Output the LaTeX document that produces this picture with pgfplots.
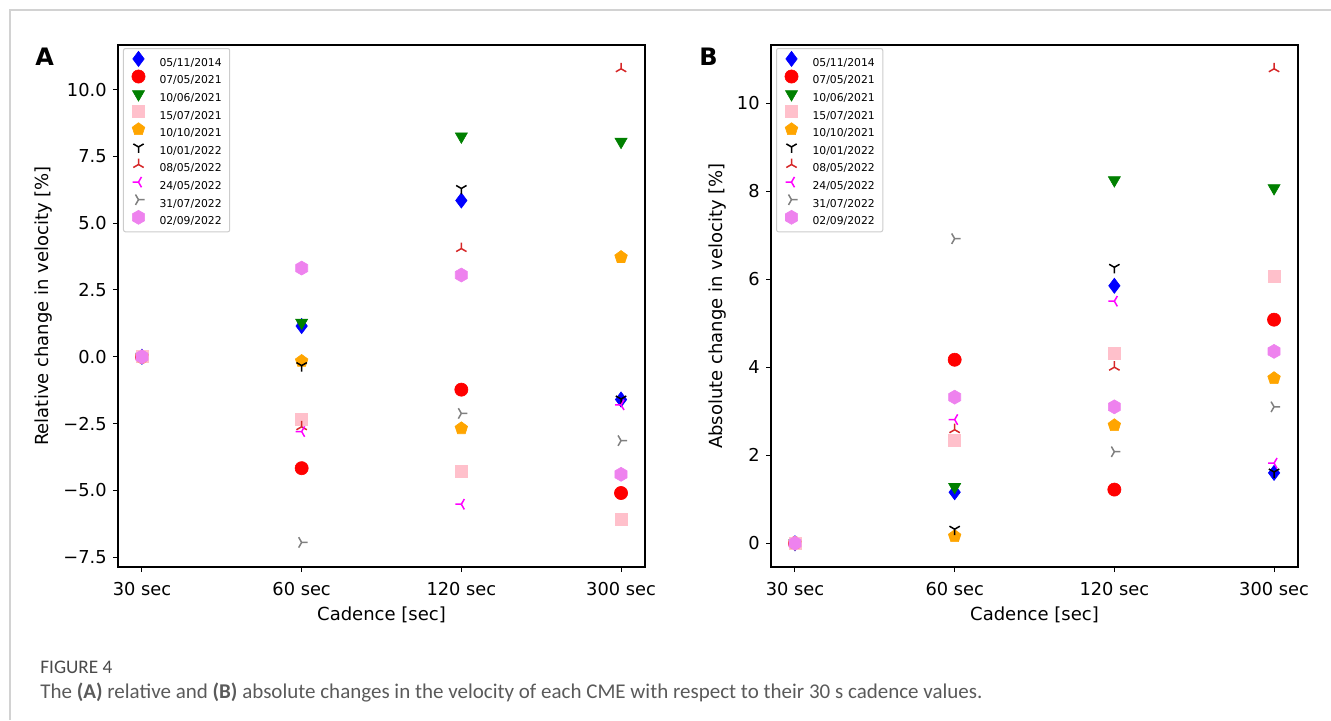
\documentclass[border=0pt]{standalone}
\usepackage{fontspec}
\setmainfont{DejaVu Sans}
\newfontfamily\capfont{Carlito}
\usepackage{pgfplots}
\pgfplotsset{compat=1.18}
\usetikzlibrary{plotmarks}

\definecolor{mblue}{HTML}{0000FF}
\definecolor{mred}{HTML}{FF0000}
\definecolor{mgreen}{HTML}{008000}
\definecolor{mpink}{HTML}{FFC0CB}
\definecolor{morange}{HTML}{FFA500}
\definecolor{mtred}{HTML}{D62728}
\definecolor{mmagenta}{HTML}{FF00FF}
\definecolor{mgray}{HTML}{808080}
\definecolor{mviolet}{HTML}{EE82EE}
\definecolor{framegray}{HTML}{D2D2D2}
\definecolor{capgray}{HTML}{5A5A5A}
\definecolor{capdark}{HTML}{4A4A4A}
\definecolor{leggray}{HTML}{CCCCCC}

\pgfdeclareplotmark{hexagon*}{%
  \pgfpathmoveto{\pgfqpointpolar{90}{\pgfplotmarksize}}%
  \pgfpathlineto{\pgfqpointpolar{150}{\pgfplotmarksize}}%
  \pgfpathlineto{\pgfqpointpolar{210}{\pgfplotmarksize}}%
  \pgfpathlineto{\pgfqpointpolar{270}{\pgfplotmarksize}}%
  \pgfpathlineto{\pgfqpointpolar{330}{\pgfplotmarksize}}%
  \pgfpathlineto{\pgfqpointpolar{30}{\pgfplotmarksize}}%
  \pgfpathclose
  \pgfusepathqfillstroke
}

\pgfplotsset{
  mk/.style={only marks, legend image code/.code={%
      \pgfpathrectangle{\pgfpoint{-3.5pt}{-1pt}}{\pgfpoint{7pt}{5.5pt}}\pgfusepath{use as bounding box}%
      \draw[##1] plot coordinates {(0pt,1.9pt)};}},
  s1/.style={mk, color=mblue, mark=diamond*, mark size=3.8pt, mark options={solid, line width=0.3pt}},
  s2/.style={mk, color=mred, mark=*, mark size=3.3pt, mark options={solid, line width=0.3pt}},
  s3/.style={mk, color=mgreen, mark=triangle*, mark size=3.5pt, mark options={solid, rotate=180, line width=0.3pt}},
  s4/.style={mk, color=mpink, mark=square*, mark size=3.0pt, mark options={solid, line width=0.3pt}},
  s5/.style={mk, color=morange, mark=pentagon*, mark size=3.3pt, mark options={solid, line width=0.3pt}},
  s6/.style={mk, color=black, mark=Mercedes star flipped, mark size=3.0pt, mark options={solid, line width=0.75pt}},
  s7/.style={mk, color=mtred, mark=Mercedes star, mark size=3.0pt, mark options={solid, line width=0.75pt}},
  s8/.style={mk, color=mmagenta, mark=Mercedes star, mark size=3.0pt, mark options={solid, rotate=90, line width=0.75pt}},
  s9/.style={mk, color=mgray, mark=Mercedes star, mark size=3.0pt, mark options={solid, rotate=-90, line width=0.75pt}},
  s10/.style={mk, color=mviolet, mark=hexagon*, mark size=3.5pt, mark options={solid, line width=0.3pt}},
  cstyle/.style={
    scale only axis, width=263.5pt, height=261pt,
    xmin=-0.15, xmax=3.15, xtick={0,1,2,3},
    xticklabels={30 sec,60 sec,120 sec,300 sec},
    tick align=outside, tick pos=left, major tick length=2.5pt,
    every tick/.style={black, line width=0.5pt},
    axis line style={line width=0.6pt},
    ticklabel style={font=\fontsize{8.9}{10}\selectfont},
    xticklabel style={anchor=north, inner sep=0pt, yshift=-5pt},
    yticklabel style={anchor=east, inner sep=0pt, xshift=-3pt},
    label style={font=\fontsize{9}{10}\selectfont},
    xlabel={Cadence [sec]},
    xlabel style={at={(axis description cs:0.5,-0.1025)}, anchor=base, inner sep=0pt},
    legend cell align=left,
    legend style={at={(axis description cs:0,1)}, anchor=north west, xshift=2.5pt, yshift=-1.5pt,
      font=\fontsize{5.4}{6}\selectfont, draw=leggray, line width=0.5pt, rounded corners=1pt,
      fill=white, inner xsep=4pt, inner ysep=2.6pt, row sep=1.55pt, column sep=7pt,
      nodes={inner sep=0pt, text height=4.5pt, text depth=1pt}},
  }
}

\begin{document}
\begin{tikzpicture}[x=1pt,y=1pt]
\useasboundingbox (0,0) rectangle (665.5,-360);
\draw[framegray, line width=0.75pt] (5,-360) -- (5,-5) -- (665.5,-5);

\node[anchor=base west, inner sep=0pt, font=\bfseries\fontsize{12}{14}\selectfont] at (17.5,-32.5) {A};
\node[anchor=base west, inner sep=0pt, font=\bfseries\fontsize{12}{14}\selectfont] at (349.5,-32.5) {B};

\begin{axis}[cstyle, at={(59pt,-22.5pt)}, anchor=north west,
  ymin=-7.87, ymax=11.67,
  ytick={-7.5,-5,-2.5,0,2.5,5,7.5,10},
  yticklabels={−7.5,−5.0,−2.5,0.0,2.5,5.0,7.5,10.0},
  ylabel={Relative change in velocity [\%]},
  ylabel style={at={(axis description cs:-0.1328,0.5)}, anchor=base, inner sep=0pt}]
\addplot[s1] coordinates {(0,0) (1,1.15) (2,5.85) (3,-1.60)}; \addlegendentry{05/11/2014}
\addplot[s2] coordinates {(0,0) (1,-4.17) (2,-1.23) (3,-5.10)}; \addlegendentry{07/05/2021}
\addplot[s3] coordinates {(0,0) (1,1.28) (2,8.25) (3,8.05)}; \addlegendentry{10/06/2021}
\addplot[s4] coordinates {(0,0) (1,-2.34) (2,-4.30) (3,-6.08)}; \addlegendentry{15/07/2021}
\addplot[s5] coordinates {(0,0) (1,-0.16) (2,-2.68) (3,3.73)}; \addlegendentry{10/10/2021}
\addplot[s6] coordinates {(0,0) (1,-0.33) (2,6.30) (3,-1.58)}; \addlegendentry{10/01/2022}
\addplot[s7] coordinates {(0,0) (1,-2.62) (2,4.05) (3,10.78)}; \addlegendentry{08/05/2022}
\addplot[s8] coordinates {(0,0) (1,-2.80) (2,-5.52) (3,-1.80)}; \addlegendentry{24/05/2022}
\addplot[s9] coordinates {(0,0) (1,-6.95) (2,-2.12) (3,-3.14)}; \addlegendentry{31/07/2022}
\addplot[s10] coordinates {(0,0) (1,3.32) (2,3.06) (3,-4.40)}; \addlegendentry{02/09/2022}
\end{axis}

\begin{axis}[cstyle, at={(385.5pt,-22.5pt)}, anchor=north west,
  ymin=-0.539, ymax=11.32,
  ytick={0,2,4,6,8,10},
  yticklabels={0,2,4,6,8,10},
  ylabel={Absolute change in velocity [\%]},
  ylabel style={at={(axis description cs:-0.093,0.5)}, anchor=base, inner sep=0pt}]
\addplot[s1] coordinates {(0,0) (1,1.16) (2,5.85) (3,1.60)}; \addlegendentry{05/11/2014}
\addplot[s2] coordinates {(0,0) (1,4.17) (2,1.22) (3,5.08)}; \addlegendentry{07/05/2021}
\addplot[s3] coordinates {(0,0) (1,1.28) (2,8.25) (3,8.07)}; \addlegendentry{10/06/2021}
\addplot[s4] coordinates {(0,0) (1,2.35) (2,4.31) (3,6.06)}; \addlegendentry{15/07/2021}
\addplot[s5] coordinates {(0,0) (1,0.16) (2,2.68) (3,3.75)}; \addlegendentry{10/10/2021}
\addplot[s6] coordinates {(0,0) (1,0.32) (2,6.27) (3,1.62)}; \addlegendentry{10/01/2022}
\addplot[s7] coordinates {(0,0) (1,2.58) (2,4.00) (3,10.78)}; \addlegendentry{08/05/2022}
\addplot[s8] coordinates {(0,0) (1,2.81) (2,5.50) (3,1.82)}; \addlegendentry{24/05/2022}
\addplot[s9] coordinates {(0,0) (1,6.92) (2,2.08) (3,3.10)}; \addlegendentry{31/07/2022}
\addplot[s10] coordinates {(0,0) (1,3.32) (2,3.10) (3,4.36)}; \addlegendentry{02/09/2022}
\end{axis}

\node[anchor=base west, inner sep=0pt, text=capdark, font=\capfont\fontsize{9.6}{11}\selectfont] at (20,-336.5) {FIGURE 4};
\node[anchor=base west, inner sep=0pt, text=capgray, font=\capfont\fontsize{10.5}{12}\selectfont] at (20,-349) {The \textbf{(A)} relative and \textbf{(B)} absolute changes in the velocity of each CME with respect to their 30 s cadence values.};
\end{tikzpicture}
\end{document}
